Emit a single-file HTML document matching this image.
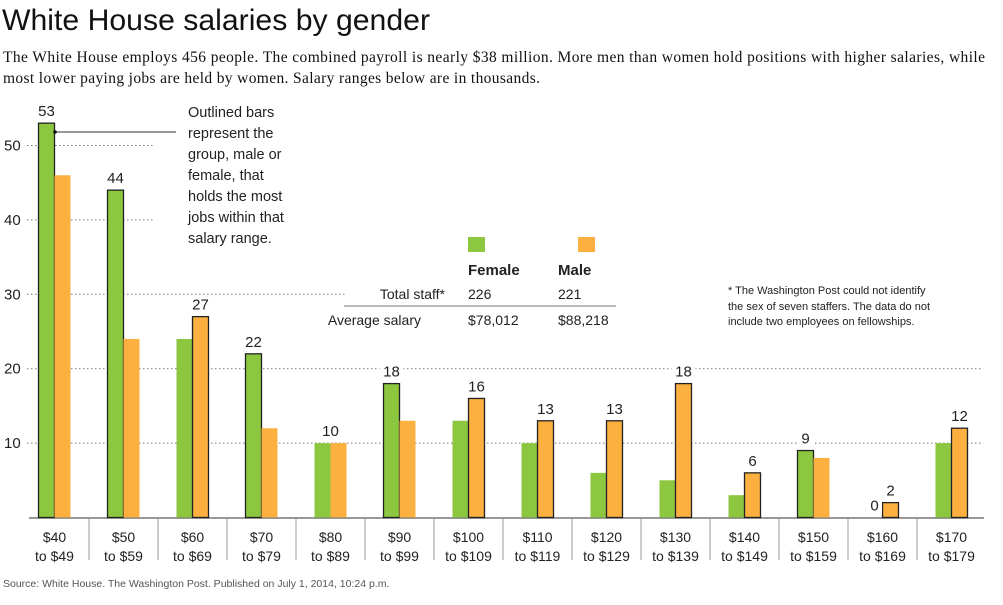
<!DOCTYPE html>
<html><head><meta charset="utf-8"><style>
body{margin:0;background:#fff;width:1003px;height:605px;overflow:hidden;font-family:"Liberation Sans",sans-serif}
svg{display:block}
</style></head><body>
<svg width="1003" height="605" id="c">
<text x="2" y="30" font-size="30" fill="#111" font-family="Liberation Sans, sans-serif" textLength="428" lengthAdjust="spacingAndGlyphs">White House salaries by gender</text>
<text x="3" y="62" font-size="15.5" fill="#111" font-family="Liberation Serif, serif" textLength="982" lengthAdjust="spacing">The White House employs 456 people. The combined payroll is nearly $38 million. More men than women hold positions with higher salaries, while</text>
<text x="3" y="83" font-size="15.5" fill="#111" font-family="Liberation Serif, serif" textLength="537" lengthAdjust="spacing">most lower paying jobs are held by women. Salary ranges below are in thousands.</text>
<g id="grid"></g><g id="bars"></g><g id="labels"></g>
<g font-size="14.5" fill="#222">
<line x1="55" y1="132" x2="176" y2="132" stroke="#333" stroke-width="1"/>
<circle cx="55" cy="132" r="1.8" fill="#111"/>
<text x="188" y="117">Outlined bars</text><text x="188" y="138">represent the</text>
<text x="188" y="159">group, male or</text><text x="188" y="180">female, that</text>
<text x="188" y="201">holds the most</text><text x="188" y="222">jobs within that</text>
<text x="188" y="243">salary range.</text>
</g>
<g font-size="14" fill="#222">
<rect x="468" y="237" width="17" height="15" fill="#8dc63f"/>
<rect x="578" y="237" width="17" height="15" fill="#fbb040"/>
<text x="468" y="275" font-weight="bold" font-size="15">Female</text>
<text x="558" y="275" font-weight="bold" font-size="15">Male</text>
<text x="445" y="299" text-anchor="end">Total staff*</text>
<text x="468" y="299">226</text><text x="558" y="299">221</text>
<line x1="344" y1="306" x2="616" y2="306" stroke="#777"/>
<text x="421" y="325" text-anchor="end">Average salary</text>
<text x="468" y="325">$78,012</text><text x="558" y="325">$88,218</text>
</g>
<g font-size="11" fill="#222">
<text x="728" y="294">* The Washington Post could not identify</text>
<text x="728" y="310">the sex of seven staffers. The data do not</text>
<text x="728" y="325">include two employees on fellowships.</text>
</g>
<text x="3" y="587" font-size="10.5" fill="#555">Source: White House. The Washington Post. Published on July 1, 2014, 10:24 p.m.</text>
</svg>
<script>
const categories=["$40|to $49","$50|to $59","$60|to $69","$70|to $79","$80|to $89","$90|to $99","$100|to $109","$110|to $119","$120|to $129","$130|to $139","$140|to $149","$150|to $159","$160|to $169","$170|to $179"];
const female=[53,44,24,22,10,18,13,10,6,5,3,9,0,10];
const male=[46,24,27,12,10,13,16,13,13,18,6,8,2,12];
const yTicks=[10,20,30,40,50];
const NS="http://www.w3.org/2000/svg";
const y0=517.5,k=7.44,x0=20,cw=69,bw=16;
const y=v=>y0-v*k, cx=i=>x0+cw*i+cw/2;
function mk(t,a,p){const e=document.createElementNS(NS,t);for(const n in a)e.setAttribute(n,a[n]);p.appendChild(e);return e;}
const G=document.getElementById('grid'),B=document.getElementById('bars'),L=document.getElementById('labels');
const gridEnd={10:983,20:983,30:345,40:153,50:153};
yTicks.forEach(t=>{
 const ln=mk('line',{x1:27,x2:gridEnd[t],y1:y(t),y2:y(t),stroke:'#777','stroke-dasharray':'1.5,2.5'},G);
 
 
 const tx=mk('text',{x:4,y:y(t)+5,'font-size':15,fill:'#222'},G);tx.textContent=t;
 
 
});
const ax=mk('line',{x1:29,x2:984,y1:y0+0.5,y2:y0+0.5,stroke:'#777','stroke-width':1.5},G);


categories.forEach((c,i)=>{
 const f=female[i],m=male[i],c0=cx(i);
 const fo=f>m,mo=m>f;
 const r1=mk('rect',{x:c0-bw,y:y(f),width:bw,height:f*k,fill:'#8dc63f',stroke:fo?'#222':'none','stroke-width':1.3},B);
 
 
 const r2=mk('rect',{x:c0,y:y(m),width:bw,height:m*k,fill:'#fbb040',stroke:mo?'#222':'none','stroke-width':1.3},B);
 
 
 const lab=(v,x)=>{const w=String(v).length*9+6;mk('rect',{x:x-w/2,y:y(v)-20,width:w,height:16,fill:'#fff'},L);
  const t=mk('text',{x:x,y:y(v)-7,'text-anchor':'middle','font-size':15,fill:'#222'},L);t.textContent=v;
  
  };
 if(fo||(f==0))lab(f,c0-bw/2);
 if(mo)lab(m,c0+bw/2);
 if(f==m)lab(f,c0);
 if(i>0){const d=mk('line',{x1:x0+cw*i,x2:x0+cw*i,y1:y0+1,y2:560,stroke:'#999'},G);
  
  }
 const p=c.split('|');
 [0,1].forEach(j=>{const t=mk('text',{x:c0,y:542+j*19,'text-anchor':'middle','font-size':14,fill:'#222'},G);t.textContent=p[j];
  
  });
});
</script>
</body></html>
